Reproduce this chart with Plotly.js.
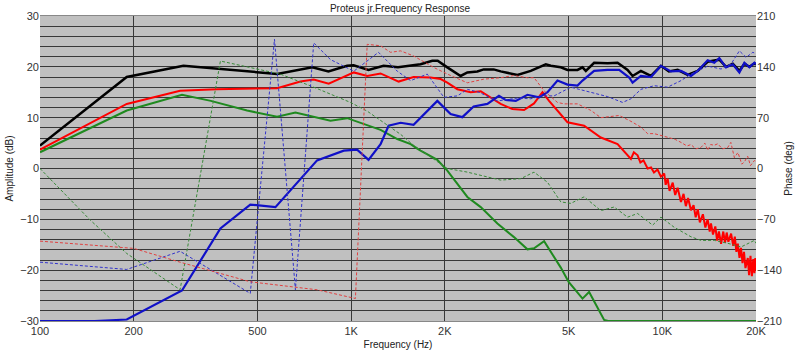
<!DOCTYPE html>
<html><head><meta charset="utf-8">
<script src="https://cdn.plot.ly/plotly-3.0.1.min.js"></script>
<style>body{margin:0;background:#fff}#c{width:800px;height:351px}</style>
</head><body><div id="c"></div>
<script>
// ---- Amplitude (dB) ----
const blackF = [100,190,289,511,578,750,845,971,1018,1137,1271,1414,1553,1671,1823,1897,2037,2248,2363,2544,2666,2871,3023,3256,3423,3777,4222,4381,4717,4957,5338,5540,5677,6037,6668,7180,7732,8024,8533,9190,9897,10500,11200,12061,12988,13987,15244,16026,16845,17687,18354,19048,19766,20000];
const blackA = [4.5,18.0,20.2,18.9,18.6,19.9,19.1,20.2,20.3,19.4,20.2,19.9,20.2,20.5,21.2,21.2,19.9,18.2,18.9,19.1,19.5,19.5,19.1,18.6,18.4,19.2,20.5,20.2,19.9,19.4,19.4,19.9,19.2,20.8,20.7,20.8,19.4,18.2,19.2,18.2,20.2,19.1,19.4,18.4,19.2,21.0,21.4,20.0,20.6,19.2,20.6,20.0,20.7,20.4];

const blueF = [100,150,190,286,380,474,571,777,947,1045,1137,1243,1319,1442,1587,1892,2087,2277,2475,2740,2985,3137,3381,3686,4016,4276,4603,4957,5338,5540,6037,6668,7266,7825,8024,8533,9190,9897,10660,11478,12359,12988,13987,14689,15244,16026,16845,17687,18354,19048,19766,20000];
const blueA = [-30,-30,-29.7,-24,-11.8,-7.1,-7.6,1.6,3.5,3.7,1.7,4.8,8.4,9.0,8.6,13.3,10.7,10.1,12.2,12.7,14.3,13.5,13.3,14.5,14.0,15.0,17.3,16.5,16.3,17.3,19.2,19.4,19.4,17.9,16.9,18.2,18.0,20.2,19.1,19.2,18.2,19.2,21.3,20.8,21.7,19.9,20.5,18.9,20.8,19.9,20.8,20.5];

const redF = [100,190,282,370,578,687,758,847,1020,1126,1243,1421,1587,1799,1939,2037,2194,2421,2608,2808,3023,3297,3594,3870,4120,4325,4717,4957,5606,6345,7180,7925,8100,8328,8500,8700,8968,9200,9400,9650,9897,10141,10250,10400,10550,10800,11000,11200,11478,11700,11900,12100,12359,12600,12800,13000,13200,13500,13750,13987,14200,14333,14550,14800,15000,15200,15442,15700,15900,16100,16300,16633,16900,17100,17300,17481,17700,17900,18100,18300,18500,18824,19000,19200,19400,19600,19766,19900,20000];
const redA = [3.7,12.7,15.3,15.6,15.8,17.1,17.5,16.7,18.9,18.2,18.7,17.1,18.0,17.9,17.6,16.9,15.6,15.0,15.2,13.9,12.7,11.7,11.5,12.8,15.0,13.3,10.6,9.1,8.4,6.1,4.8,1.9,3.2,2.6,1.2,1.6,0.0,0.2,-0.8,-0.2,-1.6,-1.0,-3.2,-2.0,-4.4,-2.8,-5.2,-3.8,-6.6,-5.0,-7.4,-5.8,-8.2,-7.2,-9.6,-8.0,-10.6,-9.0,-11.6,-10.0,-12.4,-10.8,-13.0,-11.4,-14.2,-12.4,-14.8,-12.4,-14.6,-12.6,-14.4,-12.8,-15.2,-13.4,-16.4,-14.8,-17.6,-15.6,-18.6,-16.4,-19.6,-17.6,-21.0,-17.2,-21.2,-17.8,-20.6,-17.6,-20.0];

const greenF = [100,190,286,354,463,578,662,858,971,1096,1243,1407,1553,1631,1671,1892,2037,2363,2608,2951,3336,3686,3870,4169,4717,5000,5540,5817,6501,6700,10000,20000];
const greenA = [3.2,11.4,14.5,13.3,11.4,10.2,11.0,9.4,9.9,8.8,7.6,5.8,4.8,3.9,3.5,1.7,-0.4,-5.6,-7.6,-10.8,-13.5,-15.9,-15.7,-14.3,-19.5,-22.3,-25.6,-24.3,-29.8,-30,-30,-30];

// ---- Phase (deg) ----
const greenPF = [100,145,190,282,380,592,758,995,1126,1338,1442,1587,2037,2363,3023,3507,3870,4276,4717,5079,5606,6345,7002,7732,8328,9307,9897,10923,12359,13310,14689,16231,17912,19766,20000];
const greenP = [0,-71,-117,-167,148,130,112,91,79,57,47,32,0,-5,-16,-14,-5,-19,-46,-48,-39,-58,-53,-67,-62,-78,-67,-81,-94,-99,-99,-103,-108,-99,-103];

const bluePF = [100,190,282,474,567,662,758,858,1020,1224,1407,1553,1756,1986,2194,2363,2575,2951,3423,3777,4068,4489,5079,5891,6668,7451,7925,8533,9418,10400,11478,12359,13987,15442,16633,17687,18587,19535,20000];
const blueP = [-129,-139,-114,-172,178,-167,173,150,134,160,134,121,130,98,100,109,105,93,97,96,100,100,112,105,99,91,96,109,114,112,121,130,141,137,144,162,153,160,158];

const redPF = [100,200,282,474,777,1032,1126,1243,1338,1442,1587,1845,2087,2363,2666,3023,3336,3686,3870,4169,4603,4834,5338,5891,6345,7266,7925,8533,8968,9418,10400,11000,11478,12000,12359,12800,13310,13700,13987,14300,14689,15066,15600,16231,16600,17044,17500,18000,18354,18800,19200,19766,20000];
const redP = [-100,-110,-129,-156,-167,-179,171,169,160,162,155,139,128,118,123,125,128,125,125,107,91,89,89,80,70,73,65,57,48,48,43,40,36,31,33,27,29,35,25,33,32,34,27,29,36,15,22,6,9,17,4,11,10];

const xTicks = [100,200,500,1000,2000,5000,10000,20000];
const xTickText = ['100','200','500','1K','2K','5K','10K','20K'];
const yTicks = [-30,-20,-10,0,10,20,30];
const y2Ticks = [-210,-140,-70,0,70,140,210];

const font = {family:'Liberation Sans, Arial, sans-serif', size:11, color:'#333'};
function line(x,y,color,width,dash,axis){
  return {x:x,y:y,type:'scatter',mode:'lines',yaxis:axis||'y',
    line:{color:color,width:width,dash:dash||'solid'},hoverinfo:'skip',showlegend:false};
}
const traces = [
  line(greenPF,greenP,'#3a8a3a',1,'3px,2px','y2'),
  line(bluePF,blueP,'#3333cc',1,'3px,2px','y2'),
  line(redPF,redP,'#e04040',1,'3px,2px','y2'),
  line(greenF,greenA,'#1f8a1f',2),
  line(redF,redA,'#ff0000',2),
  line(blackF,blackA,'#000000',2.5),
  line(blueF,blueA,'#1010c8',2.2)
];
const layout = {
  width:800,height:351,
  margin:{l:40,r:44,t:16,b:30},
  paper_bgcolor:'#ffffff',plot_bgcolor:'#c0c0c0',
  font:font,
  title:{text:'Proteus jr.Frequency Response',x:0.5,xanchor:'center',y:0.977,yanchor:'middle',yref:'container',font:{family:font.family,size:10,color:'#222'}},
  xaxis:{type:'log',range:[2,Math.log10(20000)],tickvals:xTicks,ticktext:xTickText,
    showgrid:true,gridcolor:'#383838',gridwidth:1,zeroline:false,ticks:'',
    showline:true,linecolor:'#888',mirror:true,tickfont:font,ticklen:0,
    title:{text:'Frequency (Hz)',font:{family:font.family,size:10,color:'#222'},standoff:4}},
  yaxis:{range:[-30,30],tickvals:yTicks,showgrid:true,gridcolor:'#383838',gridwidth:1,zeroline:false,
    minor:{dtick:2,tick0:0,showgrid:true,gridcolor:'#383838',gridwidth:1,ticks:''},
    ticks:'',tickfont:font,
    title:{text:'Amplitude (dB)',font:{family:font.family,size:10,color:'#222'},standoff:4}},
  yaxis2:{range:[-210,210],tickvals:y2Ticks,overlaying:'y',side:'right',showgrid:false,zeroline:false,
    ticks:'',tickfont:font,
    title:{text:'Phase (deg)',font:{family:font.family,size:10,color:'#222'},standoff:4}}
};
Plotly.newPlot('c',traces,layout,{staticPlot:true,displayModeBar:false});
</script></body></html>
